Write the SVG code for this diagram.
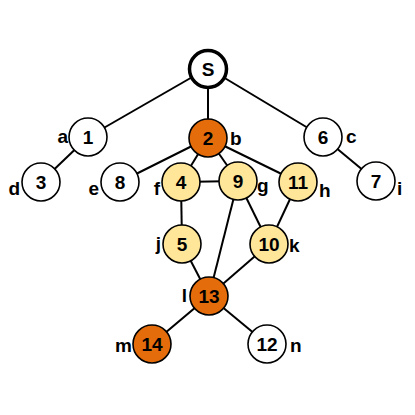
<svg xmlns="http://www.w3.org/2000/svg" width="415" height="415" viewBox="0 0 415 415">
<style>
.e{stroke:#000;stroke-width:2;fill:none}
circle{stroke:#000;stroke-width:1.6}
.w{fill:#fff}.o{fill:#E46C0A}.y{fill:#FFE699}
text{font-family:"Liberation Sans",Arial,sans-serif;font-weight:bold;font-size:19px;fill:#000}
.n{text-anchor:middle}
.l{text-anchor:end}
</style>
<rect width="415" height="415" fill="#fff"/>
<g id="edges">
<line class="e" x1="208" y1="68" x2="88" y2="137"/>
<line class="e" x1="208" y1="68" x2="208" y2="138"/>
<line class="e" x1="208" y1="68" x2="323" y2="137"/>
<line class="e" x1="88" y1="137" x2="41" y2="182"/>
<line class="e" x1="323" y1="137" x2="376" y2="181"/>
<line class="e" x1="208" y1="138" x2="120" y2="182"/>
<line class="e" x1="208" y1="138" x2="181" y2="182"/>
<line class="e" x1="208" y1="138" x2="238" y2="181"/>
<line class="e" x1="208" y1="138" x2="298" y2="182"/>
<line class="e" x1="181" y1="182" x2="238" y2="181"/>
<line class="e" x1="181" y1="182" x2="182" y2="244"/>
<line class="e" x1="238" y1="181" x2="209" y2="296"/>
<line class="e" x1="238" y1="181" x2="269" y2="244"/>
<line class="e" x1="298" y1="182" x2="269" y2="244"/>
<line class="e" x1="182" y1="244" x2="209" y2="296"/>
<line class="e" x1="269" y1="244" x2="209" y2="296"/>
<line class="e" x1="209" y1="296" x2="152" y2="344"/>
<line class="e" x1="209" y1="296" x2="267" y2="344"/>
</g>
<g id="nS"><circle class="w" cx="208" cy="69" r="18.5" style="stroke-width:3.5"/><text class="n" x="208" y="76">S</text></g>
<g id="n1"><circle class="w" cx="88" cy="137" r="19"/><text class="n" x="88" y="144">1</text><text class="l" x="68" y="143">a</text></g>
<g id="n2"><circle class="o" cx="208" cy="138" r="19"/><text class="n" x="208" y="145">2</text><text x="230" y="145">b</text></g>
<g id="n6"><circle class="w" cx="323" cy="137" r="19"/><text class="n" x="323" y="144">6</text><text x="346" y="143">c</text></g>
<g id="n3"><circle class="w" cx="41" cy="182" r="19"/><text class="n" x="41" y="189">3</text><text class="l" x="20" y="195">d</text></g>
<g id="n8"><circle class="w" cx="120" cy="182" r="19"/><text class="n" x="120" y="189">8</text><text class="l" x="99" y="195">e</text></g>
<g id="n4"><circle class="y" cx="181" cy="182" r="19"/><text class="n" x="181" y="189">4</text><text class="l" x="160" y="195">f</text></g>
<g id="n9"><circle class="y" cx="238" cy="181" r="19"/><text class="n" x="238" y="188">9</text><text x="257" y="192">g</text></g>
<g id="n11"><circle class="y" cx="298" cy="182" r="19"/><text class="n" x="298" y="189">11</text><text x="319" y="197">h</text></g>
<g id="n7"><circle class="w" cx="376" cy="181" r="19"/><text class="n" x="376" y="188">7</text><text x="397" y="195">i</text></g>
<g id="n5"><circle class="y" cx="182" cy="244" r="19"/><text class="n" x="182" y="251">5</text><text class="l" x="161" y="250">j</text></g>
<g id="n10"><circle class="y" cx="269" cy="244" r="19"/><text class="n" x="269" y="251">10</text><text x="289" y="252">k</text></g>
<g id="n13"><circle class="o" cx="209" cy="296" r="19"/><text class="n" x="209" y="303">13</text><text class="l" x="187" y="302">l</text></g>
<g id="n14"><circle class="o" cx="152" cy="344" r="19"/><text class="n" x="152" y="351">14</text><text class="l" x="132" y="352">m</text></g>
<g id="n12"><circle class="w" cx="267" cy="344" r="19"/><text class="n" x="267" y="351">12</text><text x="290" y="352">n</text></g>
</svg>
